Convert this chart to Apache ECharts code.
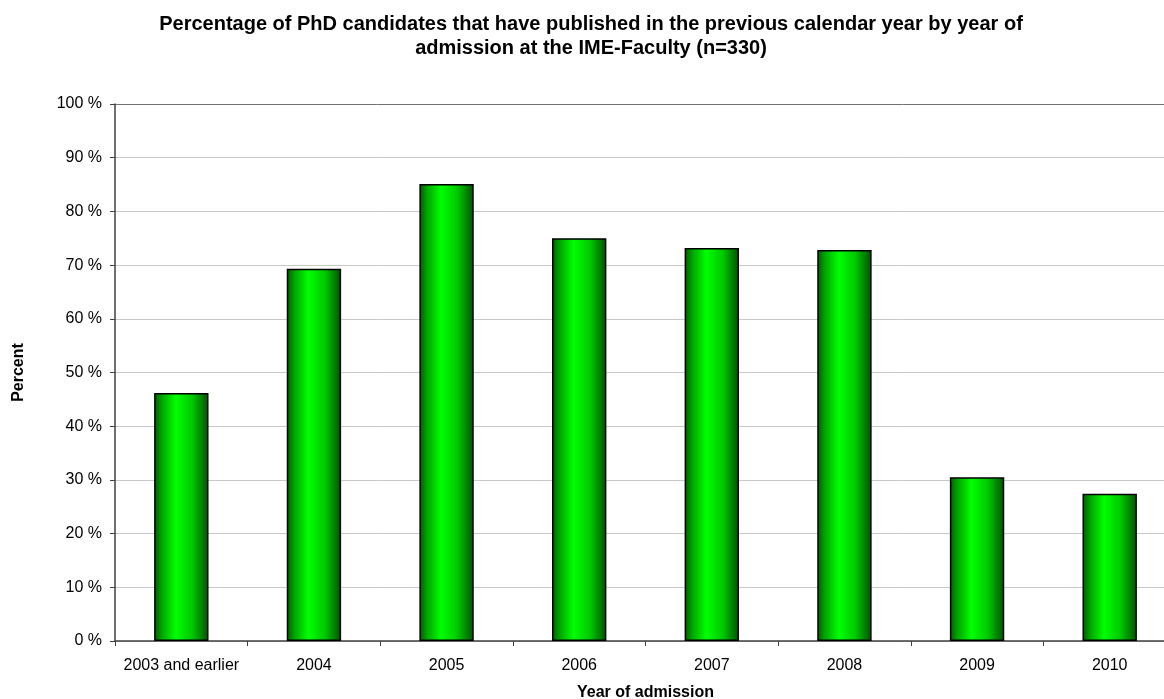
<!DOCTYPE html>
<html><head><meta charset="utf-8">
<script src="https://cdn.jsdelivr.net/npm/echarts@6/dist/echarts.min.js"></script>
<style>html,body{margin:0;padding:0;background:#fff}#c{width:1164px;height:699px}</style>
</head><body><div id="c"></div>
<script>
const categories = ["2003 and earlier","2004","2005","2006","2007","2008","2009","2010"];
const percentValues = [46.2, 69.3, 85.1, 75.0, 73.2, 72.8, 30.5, 27.4];
const yTicks = [0,10,20,30,40,50,60,70,80,90,100];

const chart = echarts.init(document.getElementById('c'), null, {renderer:'canvas'});
const font = 'Liberation Sans, Arial, sans-serif';
const barColor = new echarts.graphic.LinearGradient(0,0,1,0,[
  {offset:0, color:'#005a00'},
  {offset:0.15, color:'#00a800'},
  {offset:0.4, color:'#00ff00'},
  {offset:0.7, color:'#00c800'},
  {offset:1, color:'#005000'}
]);
chart.setOption({
  animation:false,
  title:{
    text:'Percentage of PhD candidates that have published in the previous calendar year by year of\nadmission at the IME-Faculty (n=330)',
    left:586, textAlign:'center', top:7,
    textStyle:{fontFamily:font, fontSize:20, fontWeight:'bold', color:'#000', lineHeight:24}
  },
  grid:{left:115, width:1061, top:104, height:537, containLabel:false, outerBoundsMode:'none'},
  xAxis:{
    type:'category', data:categories,
    name:'Year of admission', nameLocation:'middle', nameGap:44,
    nameTextStyle:{fontFamily:font, fontSize:16, fontWeight:'bold', color:'#000'},
    axisLine:{lineStyle:{color:'#404040', width:1.5}},
    axisTick:{show:true, alignWithLabel:false, length:5, lineStyle:{color:'#404040'}},
    axisLabel:{fontFamily:font, fontSize:16, color:'#000', margin:17, interval:0, hideOverlap:false},
    splitLine:{show:false}
  },
  yAxis:{
    type:'value', min:0, max:100, interval:10,
    name:'Percent', nameLocation:'middle', nameGap:88, nameRotate:90,
    nameTextStyle:{fontFamily:font, fontSize:16, fontWeight:'bold', color:'#000'},
    axisLine:{show:true, lineStyle:{color:'#404040', width:1.5}},
    axisTick:{show:true, length:5, inside:false, lineStyle:{color:'#404040'}},
    axisLabel:{fontFamily:font, fontSize:16, color:'#000', margin:13,
      formatter:v=> yTicks.includes(v) ? v + ' %' : ''},
    splitLine:{show:true, lineStyle:{color:['#c8c8c8','#c8c8c8','#c8c8c8','#c8c8c8','#c8c8c8','#c8c8c8','#c8c8c8','#c8c8c8','#c8c8c8','#c8c8c8','#707070'], width:1}}
  },
  series:[{
    type:'bar', data:percentValues, barWidth:'41%',
    itemStyle:{color:barColor, borderColor:'#000', borderWidth:1.5}
  }]
});
</script></body></html>
